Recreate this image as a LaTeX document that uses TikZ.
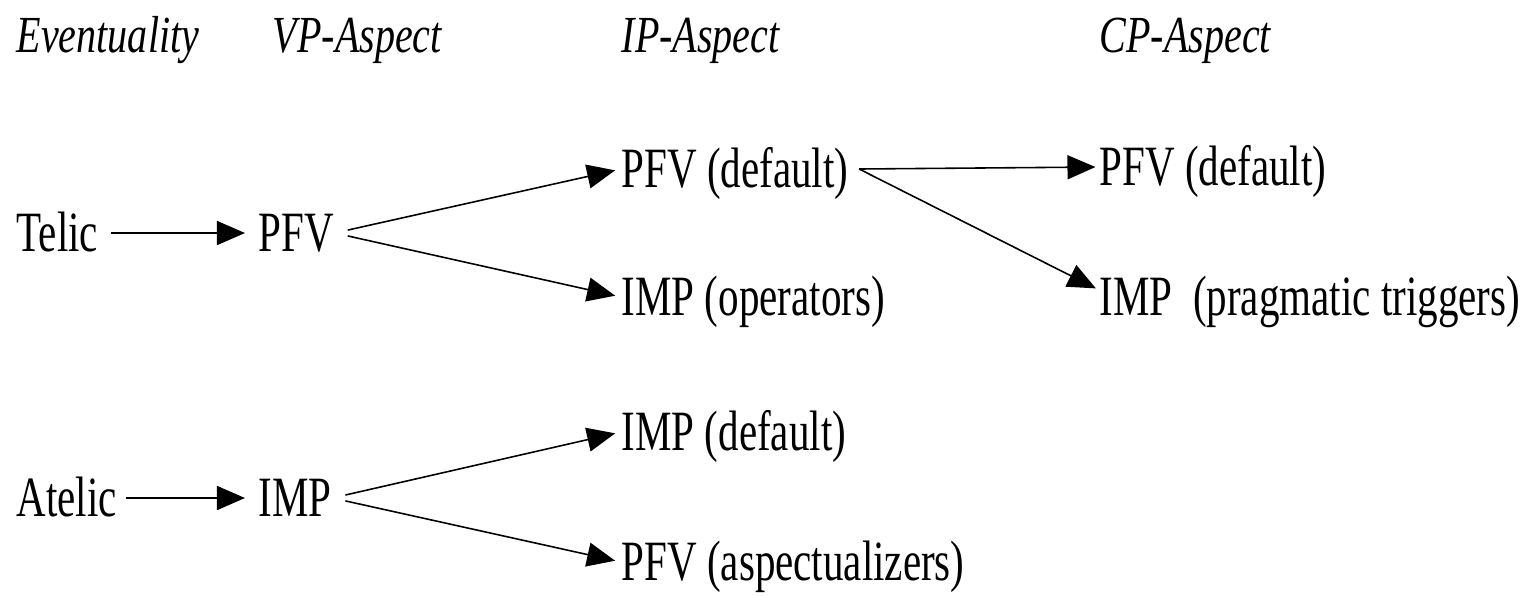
\documentclass[tikz,border=0pt]{standalone}
\usepackage{fontspec}
\setmainfont{Liberation Serif}[FakeStretch=0.72, ItalicFeatures={FakeStretch=0.77}]
\usetikzlibrary{arrows.meta, positioning}
\tikzset{
  titulo/.style={anchor=west, inner sep=0pt, text height=9.6pt, text depth=0pt,
    font=\fontsize{14.8}{17}\selectfont\itshape},
  termino/.style={anchor=west, inner sep=0pt, text height=10.7pt, text depth=0pt,
    font=\fontsize{16.2}{19}\selectfont},
  flecha/.style={-{Triangle[length=2.8mm, width=2.4mm]}, line width=0.45pt,
    shorten >=1.7pt},
  rama/.style={flecha, shorten <=3.8pt}
}

\begin{document}
\begin{tikzpicture}[x=0.01cm, y=-0.01cm]
  \useasboundingbox (0,0) rectangle (1532,596);
  % column heads
  \node[titulo] (ev) at (16,36) {Eventuality};
  \node[titulo] (vp) at (272,36) {VP-Aspect};
  \node[titulo] (ip) at (621,36) {IP-Aspect};
  \node[titulo] (cp) at (1099,36) {CP-Aspect};
  % telic row
  \node[termino] (telic) at (16,233) {Telic};
  \node[termino] (tpfv) at (258,233) {PFV};
  \node[termino] (tpfvdef) at (621,169) {PFV (default)};
  \node[termino] (timpop) at (621,297) {IMP (operators)};
  \node[termino] (cpfvdef) at (1099,167) {PFV (default)};
  \node[termino] (cimpprag) at (1099,297) {IMP\ \ (pragmatic triggers)};
  % atelic row
  \node[termino] (atelic) at (16,498) {Atelic};
  \node[termino] (aimp) at (258,498) {IMP};
  \node[termino] (aimpdef) at (621,432) {IMP (default)};
  \node[termino] (apfvasp) at (621,562) {PFV (aspectualizers)};
  \coordinate (nudo) at ([xshift=0.1cm]tpfvdef.east);
  % arrows
  \draw[flecha, shorten <=3.4pt, shorten >=3.7pt] (telic) -- (tpfv);
  \draw[rama] (tpfv.east) -- (tpfvdef.west);
  \draw[rama] (tpfv.east) -- (timpop.west);
  \draw[flecha, shorten >=1pt] (nudo) -- (cpfvdef.west);
  \draw[flecha, shorten >=1pt] (nudo) -- ([yshift=2pt]cimpprag.west);
  \draw[flecha, shorten <=2.4pt, shorten >=3.7pt] (atelic) -- (aimp);
  \draw[rama] (aimp.east) -- (aimpdef.west);
  \draw[rama] (aimp.east) -- (apfvasp.west);
\end{tikzpicture}
\end{document}
